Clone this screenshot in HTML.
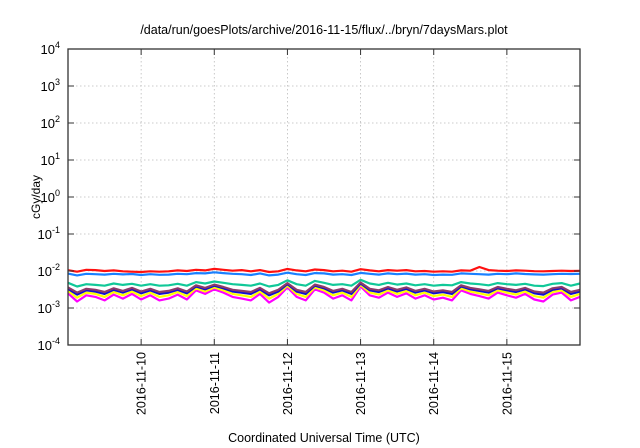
<!DOCTYPE html>
<html><head><meta charset="utf-8"><style>
body{margin:0;background:#fff;}
svg{display:block;font-family:"Liberation Sans",sans-serif;}
</style></head><body>
<svg id="chart" width="640" height="448" viewBox="0 0 640 448" xmlns="http://www.w3.org/2000/svg">
<text x="324" y="34" font-size="12.5" text-anchor="middle">/data/run/goesPlots/archive/2016-11-15/flux/../bryn/7daysMars.plot</text>
<text x="0" y="0" font-size="12" text-anchor="middle" transform="translate(40,197) rotate(-90)">cGy/day</text>
<text x="324" y="442" font-size="12.5" text-anchor="middle">Coordinated Universal Time (UTC)</text>
<g id="grid"></g>
<g id="series"></g>
<rect x="68" y="49" width="512" height="296" fill="none" stroke="#333" stroke-width="1.3"/>
<g id="axes"></g>
</svg>
<script>
const yExps = [-4,-3,-2,-1,0,1,2,3,4];
const xTickLabels = ["2016-11-10","2016-11-11","2016-11-12","2016-11-13","2016-11-14","2016-11-15"];
const xTickDays = [1,2,3,4,5,6];
const sampleHours = 3;
const magenta = [2.5,1.5,2.2,2.0,1.6,2.3,1.8,2.4,1.7,2.2,1.6,1.8,2.3,1.7,3.0,2.4,3.2,2.6,2.0,1.8,1.6,2.4,1.4,2.0,3.6,2.0,1.6,3.2,2.6,1.8,2.2,1.6,3.8,2.2,1.9,2.6,2.0,2.5,1.8,2.2,1.7,1.9,1.6,3.0,2.4,2.1,1.8,2.6,2.2,1.9,2.4,1.7,1.5,2.3,2.6,1.6,2.0];
const yellow = [2.9,1.9,2.6,2.4,2.0,2.7,2.2,2.8,2.1,2.6,2.0,2.2,2.7,2.1,3.4,2.8,3.6,3.0,2.4,2.2,2.0,2.8,1.8,2.4,4.0,2.4,2.0,3.6,3.0,2.2,2.6,2.0,4.2,2.6,2.3,3.0,2.4,2.9,2.2,2.6,2.1,2.3,2.0,3.4,2.8,2.5,2.2,3.0,2.6,2.3,2.8,2.1,1.9,2.7,3.0,2.0,2.4];
const darkBlue = [3.3,2.3,3.0,2.8,2.4,3.1,2.6,3.2,2.5,3.0,2.4,2.6,3.1,2.5,3.8,3.2,4.0,3.4,2.8,2.6,2.4,3.2,2.2,2.8,4.4,2.8,2.4,4.0,3.4,2.6,3.0,2.4,4.6,3.0,2.7,3.4,2.8,3.3,2.6,3.0,2.5,2.7,2.4,3.8,3.2,2.9,2.6,3.4,3.0,2.7,3.2,2.5,2.3,3.1,3.4,2.4,2.8];
const purple = [3.6,2.6,3.3,3.1,2.7,3.4,2.9,3.5,2.8,3.3,2.7,2.9,3.4,2.8,4.1,3.5,4.3,3.7,3.1,2.9,2.7,3.5,2.5,3.1,4.7,3.1,2.7,4.3,3.7,2.9,3.3,2.7,4.9,3.3,3.0,3.7,3.1,3.6,2.9,3.3,2.8,3.0,2.7,4.1,3.5,3.2,2.9,3.7,3.3,3.0,3.5,2.8,2.6,3.4,3.7,2.7,3.1];
const teal = [4.8,3.8,4.4,4.2,4.0,4.6,4.2,4.5,4.0,4.4,4.0,4.1,4.5,4.0,5.0,4.6,5.2,4.8,4.4,4.2,4.0,4.6,3.8,4.2,5.6,4.4,4.0,5.4,4.8,4.2,4.4,4.0,5.8,4.6,4.2,4.8,4.3,4.6,4.1,4.4,4.0,4.2,4.1,5.0,4.6,4.4,4.1,4.7,4.4,4.2,4.5,4.0,3.9,4.5,4.7,4.0,4.6];
const blue = [8.5,7.6,8.4,8.2,8.0,8.4,8.1,8.3,7.8,8.2,7.9,8.0,8.4,8.2,8.8,8.6,9.2,8.8,8.4,8.2,7.8,8.6,7.6,8.0,9.0,8.2,7.8,8.8,8.6,8.0,8.2,7.8,8.9,8.4,8.0,8.6,8.2,8.5,8.0,8.2,7.8,8.0,7.9,8.6,8.4,8.2,8.0,8.4,8.2,8.6,8.3,8.1,8.0,8.2,8.4,8.3,8.4];
const red = [10.5,9.6,10.8,10.6,10.0,10.4,9.8,9.6,9.4,9.8,9.6,9.8,10.4,10.0,10.8,10.4,11.5,10.8,10.2,10.6,9.8,10.6,9.4,9.8,11.4,10.4,9.8,11.0,10.6,9.8,10.2,9.6,11.2,10.4,9.8,10.6,10.2,10.6,9.8,10.0,9.6,9.8,9.6,10.4,10.2,12.8,10.6,10.2,10.0,10.4,10.2,9.9,9.8,10.0,10.2,10.0,10.1];

const NS="http://www.w3.org/2000/svg";
const L=68,R=580,T=49,B=345;
function xs(day){return L+(R-L)*day/7;}
function ys(v){return B-(B-T)*(Math.log10(v)+4)/8;}
function mk(tag,attrs,parent){const e=document.createElementNS(NS,tag);for(const k in attrs)e.setAttribute(k,attrs[k]);parent.appendChild(e);return e;}
const grid=document.getElementById('grid'),axes=document.getElementById('axes'),ser=document.getElementById('series');
yExps.forEach(p=>{
  const y=ys(Math.pow(10,p));
  if(p>-4&&p<4){const g=mk('line',{x1:L,x2:R,y1:y,y2:y,stroke:'#bbb','stroke-width':0.8,'stroke-dasharray':'1.5,2.5'},grid);
  
  }
  const t1=mk('line',{x1:L,x2:L+6,y1:y,y2:y,stroke:'#333'},axes);
  
  
  const t2=mk('line',{x1:R-6,x2:R,y1:y,y2:y,stroke:'#333'},axes);
  
  
  const tx=mk('text',{x:60,y:y+5,'font-size':13,'text-anchor':'end'},axes);
  
  
  tx.innerHTML='10<tspan dy="-6" font-size="9">'+p+'</tspan>';
});
xTickDays.forEach((d,i)=>{
  const x=xs(d);
  const g=mk('line',{x1:x,x2:x,y1:T,y2:B,stroke:'#bbb','stroke-width':0.8,'stroke-dasharray':'1.5,2.5'},grid);
  
  
  const t1=mk('line',{x1:x,x2:x,y1:B-6,y2:B,stroke:'#333'},axes);
  
  
  const t2=mk('line',{x1:x,x2:x,y1:T,y2:T+6,stroke:'#333'},axes);
  
  
  const tx=mk('text',{x:0,y:0,'font-size':12.5,'text-anchor':'end',transform:'translate('+(x+4.5)+',352) rotate(-90)'},axes);
  
  
  tx.textContent=xTickLabels[i];
});
const seriesList=[[magenta,'#ff00ff','series-magenta'],[yellow,'#ffff00','series-yellow'],[darkBlue,'#1010d0','series-dark-blue'],[purple,'#8b3a6a','series-purple'],[teal,'#10c898','series-teal'],[blue,'#1a80ff','series-blue'],[red,'#ff1010','series-red']];
seriesList.forEach(s=>{
  const pts=s[0].map((v,i)=>xs(i*sampleHours/24).toFixed(1)+','+ys(v/1000).toFixed(1)).join(' ');
  const pl=mk('polyline',{points:pts,fill:'none',stroke:s[1],'stroke-width':2.2,'stroke-linejoin':'round'},ser);
  
  
});
</script>
</body></html>
